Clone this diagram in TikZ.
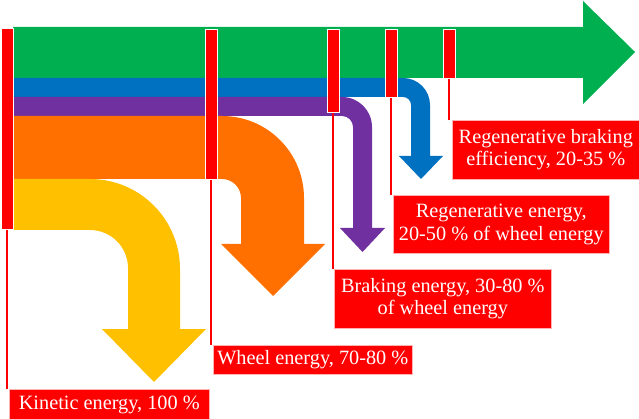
\documentclass[tikz,border=0pt]{standalone}
\usepackage{fontspec}
\setmainfont{Liberation Serif}
\usepackage{tikz}
\usetikzlibrary{
	positioning,
	arrows.meta
}

\definecolor{flowgreen}{RGB}{0,176,80}
\definecolor{flowblue}{RGB}{0,112,192}
\definecolor{flowpurple}{RGB}{112,48,160}
\definecolor{floworange}{RGB}{255,112,0}
\definecolor{flowyellow}{RGB}{255,192,0}
\definecolor{markred}{RGB}{255,0,0}

\tikzset{
	bar/.style={fill=markred,draw=white,line width=0.8pt,anchor=north west,
		inner sep=0pt,minimum width=12pt},
	tag/.style={fill=markred,draw=white!70!markred,line width=0.6pt,anchor=north west,
		inner sep=0pt,text=white,align=center,font=\fontsize{20.3}{22.5}\selectfont},
	leader/.style={color=markred,line width=2pt}
}

\begin{document}
\begin{tikzpicture}[x=1pt,y=-1pt]
		\useasboundingbox (0,0) rectangle (639,419);

		\fill[flowgreen]  (13,27) -- (583,27) -- (583,1) -- (635,52) -- (583,104) -- (583,78) -- (13,78) -- cycle;
		\fill[flowblue]   (13,78) -- (403,78) arc[start angle=-90,end angle=0,radius=27]
			-- (430,156) -- (443,156) -- (421,179) -- (399,156) -- (411,156)
			-- (411,105) arc[start angle=0,end angle=-90,radius=8] -- (13,97) -- cycle;
		\fill[flowpurple] (13,97) -- (342,97) arc[start angle=-90,end angle=0,radius=30]
			-- (372,228) -- (385,228) -- (362.5,252) -- (340,228) -- (353,228)
			-- (353,127) arc[start angle=0,end angle=-90,radius=11] -- (13,116) -- cycle;
		\fill[floworange] (13,116) -- (222,116) arc[start angle=-90,end angle=0,radius=82]
			-- (304,244) -- (325,244) -- (273,296) -- (221,244) -- (241,244)
			-- (241,198) arc[start angle=0,end angle=-90,radius=19] -- (13,179) -- cycle;
		\fill[flowyellow] (13,179) -- (90,179) arc[start angle=-90,end angle=0,radius=90]
			-- (180,329) -- (206,329) -- (154,382) -- (102,329) -- (128,329)
			-- (128,268) arc[start angle=0,end angle=-90,radius=38] -- (13,230) -- cycle;

		\draw
			node[tag,minimum width=200pt,minimum height=31pt] (t0) at (9,389)   {Kinetic energy, 100 \%}
			node[tag,minimum width=199pt,minimum height=29pt] (t1) at (213,345) {Wheel energy, 70-80 \%}
			node[tag,minimum width=217pt,minimum height=59pt] (t2) at (334,269) {Braking energy, 30-80 \%\\of wheel energy}
			node[tag,minimum width=216pt,minimum height=58pt] (t3) at (393,195) {Regenerative energy,\\20-50 \% of wheel energy}
			node[tag,minimum width=187pt,minimum height=59pt] (t4) at (452,120) {Regenerative braking\\efficiency, 20-35 \%}

			node[bar,minimum height=201pt] (b0) at (1,28)   {}
			node[bar,minimum height=150pt] (b1) at (205,29) {}
			node[bar,minimum height=83pt]  (b2) at (327,29) {}
			node[bar,minimum height=68pt]  (b3) at (385,29) {}
			node[bar,minimum height=49pt]  (b4) at (443,29) {}
		;

		\draw[leader] (b0.south) -- (b0.south |- t0.north);
		\draw[leader] (b1.south) -- (b1.south |- t1.north);
		\draw[leader] (b2.south) -- (b2.south |- t2.north);
		\draw[leader] (b3.south) -- (b3.south |- t3.north);
		\draw[leader] (b4.south) -- (b4.south |- t4.north);
	\end{tikzpicture}
\end{document}
